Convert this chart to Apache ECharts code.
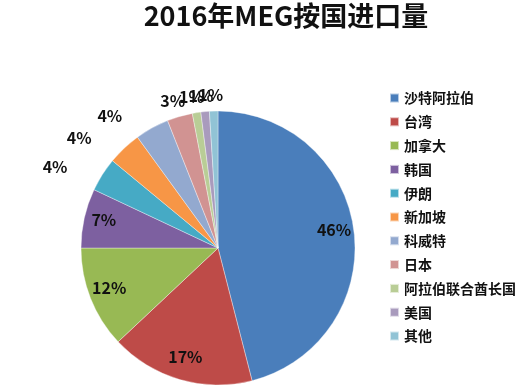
<!DOCTYPE html>
<html><head><meta charset="utf-8">
<script src="https://cdn.jsdelivr.net/npm/echarts@6/dist/echarts.min.js"></script>
<style>html,body{margin:0;padding:0;background:#fff}#c{width:528px;height:391px}</style>
</head><body><div id="c"></div>
<script>
const categories = ['沙特阿拉伯','台湾','加拿大','韩国','伊朗','新加坡','科威特','日本','阿拉伯联合酋长国','美国','其他'];
const values = [46,17,12,7,4,4,4,3,1,1,1];
const colors = ['#4A7EBB','#BE4B48','#98B954','#7D60A0','#46AAC5','#F79646','#93A9CF','#D19392','#B9CD96','#A99BBD','#91C3D5'];
const insideCount = 4;
const topSmallStart = 7;

const font = '"Noto Sans CJK SC", "Noto Sans", sans-serif';
const mainData = categories.map((n,i)=>({
  name:n, value:values[i],
  itemStyle:{color:colors[i]},
  label:{show: i>=insideCount},
  labelLine: i>=topSmallStart ? {show:false, length:16, length2:10} : {show:false, length:14, length2:18}
}));
const overlayData = categories.map((n,i)=>({
  name:n, value:values[i],
  label:{show: i<insideCount}
}));
const chart = echarts.init(document.getElementById('c'));
chart.setOption({
  backgroundColor:'#fff',
  animation:false,
  title:{text:'2016年MEG按国进口量', left:281, top:-3, textAlign:'center',
    textStyle:{fontFamily:font, fontSize:27, fontWeight:'bold', color:'#111'}},
  legend:{orient:'vertical', left:384, top:86, itemWidth:9, itemHeight:9, itemGap:9.8,
    icon:'rect', data:categories,
    textStyle:{fontFamily:font, fontSize:14, lineHeight:14, fontWeight:'bold', color:'#111', padding:[0,0,0,0]}},
  series:[{
    type:'pie', center:[218,248], radius:[0,137], startAngle:90, clockwise:true,
    avoidLabelOverlap:false,
    itemStyle:{borderColor:'rgba(255,255,255,0.6)', borderWidth:0.6},
    label:{position:'outside', formatter:'{d}%', fontFamily:font, fontSize:16, fontWeight:'bold', color:'#111'},
    labelLayout:function(p){ return p.dataIndex>=topSmallStart ? {align:'left', hideOverlap:false} : {hideOverlap:false}; },
    emphasis:{disabled:true},
    data:mainData
  },{
    type:'pie', center:[218,248], radius:[91,137], startAngle:90, clockwise:true,
    silent:true, legendHoverLink:false,
    itemStyle:{color:'transparent'},
    label:{position:'inside', formatter:'{d}%', fontFamily:font, fontSize:16, fontWeight:'bold', color:'#111'},
    labelLayout:{dy:-3},
    labelLine:{show:false},
    emphasis:{disabled:true},
    data:overlayData
  }]
});
</script></body></html>
